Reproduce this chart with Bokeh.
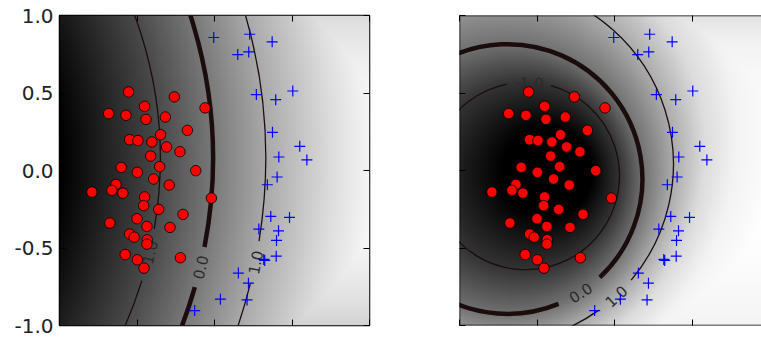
import numpy as np
from bokeh.plotting import figure
from bokeh.layouts import row
from bokeh.models import (Range1d, LinearAxis, FixedTicker, NumeralTickFormatter,
                          LinearColorMapper, Span)
from bokeh.core.properties import value
from bokeh.embed import file_html
from bokeh.resources import INLINE

# ---------------- data ----------------
RED_X = [-0.554, -0.259, -0.683, -0.571, -0.451, -0.442, -0.317, -0.061, -0.175, -0.348,
         -0.548, -0.494, -0.404, -0.309, -0.223, -0.412, -0.354, -0.602, -0.498, -0.121,
         -0.393, -0.636, -0.791, -0.662, -0.591, -0.292, -0.451, -0.020, -0.457, -0.360,
         -0.203, -0.500, -0.675, -0.436, -0.287, -0.548, -0.518, -0.434, -0.436, -0.576,
         -0.498, -0.220, -0.455]
RED_Y = [0.507, 0.475, 0.367, 0.356, 0.414, 0.330, 0.345, 0.404, 0.259, 0.231,
         0.199, 0.193, 0.184, 0.152, 0.121, 0.093, 0.025, 0.020, -0.012, -0.001,
         -0.055, -0.090, -0.139, -0.128, -0.146, -0.094, -0.171, -0.178, -0.227, -0.251,
         -0.283, -0.311, -0.339, -0.361, -0.367, -0.410, -0.430, -0.447, -0.475, -0.542,
         -0.576, -0.563, -0.630]
BLUE_X = [-0.005, 0.227, 0.372, 0.150, 0.221, 0.270, 0.505, 0.395, 0.374, 0.550,
          0.415, 0.596, 0.404, 0.341, 0.363, 0.484, 0.286, 0.413, 0.400, 0.398,
          0.318, 0.324, 0.154, 0.219, 0.038, 0.210, -0.128]
BLUE_Y = [0.858, 0.879, 0.830, 0.748, 0.765, 0.490, 0.513, 0.457, 0.246, 0.156,
          0.087, 0.068, -0.042, -0.092, -0.296, -0.303, -0.378, -0.389, -0.451, -0.553,
          -0.574, -0.580, -0.662, -0.727, -0.830, -0.835, -0.904]

TICKS = [-1.0, -0.5, 0.0, 0.5, 1.0]
LEVELS = [-1.0, 0.0, 1.0]
LEVEL_LABELS = ["-1.0", "0.0", "1.0"]

# decision-function level circles (centre x, centre y, radius) per level
LEFT_CX = [-3.02, -3.02, -3.02]
LEFT_CY = [0.077, 0.077, 0.077]
LEFT_R = [2.67, 3.01, 3.35]
RIGHT_CX = [-0.573, -0.69, -0.78]
RIGHT_CY = [-0.035, -0.055, 0.04]
RIGHT_R = [0.605, 0.87, 1.16]

# ---------------- layout / style ----------------
LEFT_GAPS = [(-0.2994, -0.1705), (-0.2793, -0.1908), (-0.2429, -0.1598)]
RIGHT_GAPS = [(1.298, 1.772), (-1.183, -0.817), (-0.9459, -0.6997)]
# grey transfer: decision value -> grey fraction, with a vertical fall-off of the brightest band
LEFT_SHADE = dict(lv=[-2.9, -1.0, 0.0, 1.0, 2.3, 3.0], gr=[0.0, 0.29, 0.47, 0.66, 0.87, 0.96],
                  top=3.3, py=0.05, fall=1.17)
RIGHT_SHADE = dict(lv=[-2.2, -1.0, 0.0, 1.0, 2.0, 3.0, 4.6], gr=[0.0, 0.2, 0.44, 0.67, 0.86, 0.95, 1.0],
                   top=4.6, py=-0.1, fall=1.9)
GRAYS = ["#%02x%02x%02x" % (i, i, i) for i in range(256)]
LINE_COLOR = "#1c0d0d"
FONT = "DejaVu Sans"


def pencil(px, py, ca, ra, cb, rb):
    dx = px - ca[0]
    dy = py - ca[1]
    dcx = cb[0] - ca[0]
    dcy = cb[1] - ca[1]
    dr = rb - ra
    a = dcx * dcx + dcy * dcy - dr * dr
    b = -2.0 * (dx * dcx + dy * dcy + ra * dr)
    c = dx * dx + dy * dy - ra * ra
    disc = np.maximum(b * b - 4 * a * c, 0.0)
    return (-b - np.sqrt(disc)) / (2 * a)


def level_field(X, Y, cx, cy, r):
    inside0 = (X - cx[1]) ** 2 + (Y - cy[1]) ** 2 < r[1] ** 2
    t_in = pencil(X, Y, (cx[0], cy[0]), r[0], (cx[1], cy[1]), r[1])
    t_out = pencil(X, Y, (cx[1], cy[1]), r[1], (cx[2], cy[2]), r[2])
    return np.where(inside0, -1.0 + t_in, t_out)


def style_axis(ax, labels):
    ax.ticker = FixedTicker(ticks=TICKS)
    ax.axis_line_color = None
    ax.major_tick_in = 6
    ax.major_tick_out = 0
    ax.major_tick_line_color = "black"
    ax.major_tick_line_width = 1
    ax.minor_tick_line_color = None
    if labels:
        ax.formatter = NumeralTickFormatter(format="0.0")
        ax.major_label_text_font = FONT
        ax.major_label_text_font_size = "20px"
        ax.major_label_text_color = "#222222"
        ax.major_label_standoff = 6
    else:
        ax.major_label_text_font_size = "1px"
        ax.major_label_text_color = None
        ax.major_label_standoff = 0


def make_panel(width, x_end, border_right, cx, cy, r, gaps, shade, left_labels, right_axis):
    p = figure(width=width, height=338, x_range=Range1d(-1, x_end), y_range=Range1d(-1, 1),
               output_backend="svg", toolbar_location=None,
               min_border_left=59, min_border_right=border_right,
               min_border_top=15, min_border_bottom=13,
               x_axis_location=None, y_axis_location=None)
    p.grid.visible = False
    p.border_fill_color = "white"

    xs = np.linspace(-1, 1, 420)
    ys = np.linspace(-1, 1, 420)
    X, Y = np.meshgrid(xs, ys)
    L = level_field(X, Y, cx, cy, r)
    cap = shade["top"] - shade["fall"] * (Y - shade["py"]) ** 2
    S = np.interp(np.minimum(L, cap), shade["lv"], shade["gr"])
    mapper = LinearColorMapper(palette=GRAYS, low=0.0, high=1.0)
    p.image(image=[S], x=-1, y=-1, dw=2, dh=2, color_mapper=mapper)

    for i, lev in enumerate(LEVELS):
        lo, hi = gaps[i]
        lw = 4.5 if lev == 0 else 1.3
        p.arc(x=[cx[i]], y=[cy[i]], radius=[r[i]], start_angle=[hi],
              end_angle=[lo + 2 * np.pi], line_color=LINE_COLOR, line_width=lw)
        mid = 0.5 * (lo + hi)
        ang = mid + np.pi / 2
        if ang > np.pi / 2:
            ang -= np.pi
        p.text(x=[cx[i] + r[i] * np.cos(mid)], y=[cy[i] + r[i] * np.sin(mid)],
               text=[LEVEL_LABELS[i]], angle=[ang], text_font=value(FONT),
               text_font_size="15px", text_align="center", text_baseline="middle",
               text_color="#2a2a2a")

    p.scatter(RED_X, RED_Y, marker="circle", size=10.5, fill_color="red",
              line_color="black", line_width=0.8)
    p.scatter(BLUE_X, BLUE_Y, marker="cross", size=11, line_color="blue", line_width=1.2)

    for side, lab in (("below", False), ("above", False), ("left", left_labels)):
        ax = LinearAxis()
        style_axis(ax, lab)
        p.add_layout(ax, side)
    if right_axis:
        ax = LinearAxis()
        style_axis(ax, False)
        p.add_layout(ax, "right")
        p.outline_line_color = "black"
        p.outline_line_width = 1.5
    else:
        p.outline_line_color = None
        for loc, dim in ((-1, "height"), (1, "width"), (-1, "width")):
            p.add_layout(Span(location=loc, dimension=dim, line_color="black", line_width=1.5))
    return p


p1 = make_panel(400, 1.0, 31, LEFT_CX, LEFT_CY, LEFT_R, LEFT_GAPS, LEFT_SHADE, True, True)
p2 = make_panel(361, -1 + 302 / 155.0, 0, RIGHT_CX, RIGHT_CY, RIGHT_R, RIGHT_GAPS,
                RIGHT_SHADE, False, False)
p = row(p1, p2)

open("out.html", "w").write(file_html(p, INLINE))
